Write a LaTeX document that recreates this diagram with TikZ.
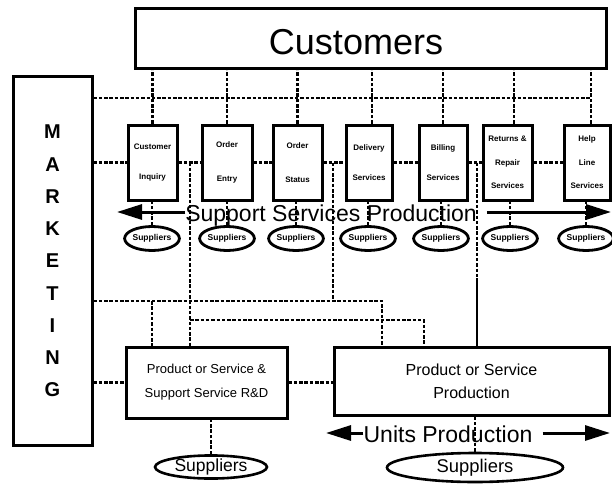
\documentclass[tikz,border=0pt]{standalone}
\usepackage{fontspec}
\setmainfont{Liberation Sans}
\usetikzlibrary{shapes.geometric,arrows.meta,calc}
\begin{document}
\begin{tikzpicture}[x=1pt,y=-1pt,
  box/.style={draw, line width=3pt, rectangle, inner sep=0pt},
  svc/.style={box, minimum height=75pt, align=center, font=\fontsize{8}{9.6}\selectfont\bfseries},
  sup/.style={draw, ellipse, line width=2.8pt, inner sep=0pt, minimum width=54pt, minimum height=24pt, font=\fontsize{8.5}{10}\selectfont\bfseries},
  bigsup/.style={draw, ellipse, line width=2.6pt, inner sep=0pt},
  dl/.style={line width=2.3pt, dash pattern=on 3.5pt off 1.8pt},
  big/.style={line width=3pt, -{Triangle[length=25pt,width=15pt]}},
  lbl/.style={anchor=base, inner sep=0pt, font=\fontsize{23}{26}\selectfont},
]
\useasboundingbox[fill=white] (0,0) rectangle (612,484);

% main blocks
\node[box, minimum width=471pt, minimum height=60pt] (cust) at (370.5,39) {};
\node[anchor=base, inner sep=0pt, font=\fontsize{36}{40}\selectfont] (custtxt) at (356,55) {Customers};
\node[box, minimum width=79pt, minimum height=368pt, align=center,
      font=\fontsize{20}{32.25}\selectfont\bfseries] (mkt) at (52.5,261)
      {M\\A\\R\\K\\E\\T\\I\\N\\G};

% support services
\node[svc, minimum width=49pt] (s1) at (152.5,162.5) {Customer\\[20pt]Inquiry};
\node[svc, minimum width=50pt] (s2) at (227,162.5) {Order\\[25pt]Entry};
\node[svc, minimum width=49pt] (s3) at (297.5,162.5) {Order\\[25pt]Status};
\node[svc, minimum width=46pt] (s4) at (369,162.5) {Delivery\\[21pt]Services};
\node[svc, minimum width=48pt] (s5) at (443,162.5) {Billing\\[21pt]Services};
\node[svc, minimum width=49pt] (s6) at (507.5,162.5) {Returns \&\\[14pt]Repair\\[14pt]Services};
\node[svc, minimum width=46pt] (s7) at (587,162.5) {Help\\[14pt]Line\\[14pt]Services};

\foreach \i/\x in {1/152,2/227,3/296,4/368,5/441,6/510,7/586}
  \node[sup] (e\i) at (\x,238.5) {Suppliers};

% R&D and production
\node[box, minimum width=161pt, minimum height=71pt, align=center,
      font=\fontsize{13}{24}\selectfont] (rd) at (206.5,382.5)
      {Product or Service \&\\Support Service R\&D};
\node[box, minimum width=275pt, minimum height=68pt, align=center,
      font=\fontsize{16}{23}\selectfont] (prod) at (471.5,381)
      {Product or Service\\Production};
\node[bigsup, minimum width=112pt, minimum height=21pt, font=\fontsize{17.5}{20}\selectfont] (suprd) at (211,467) {Suppliers};
\node[bigsup, minimum width=176pt, minimum height=29pt, font=\fontsize{18.4}{20}\selectfont] (supp) at (475,467.5) {Suppliers};

% customers to support services
\foreach \i/\dx in {1/0,2/0,3/0,4/3,5/0,6/6.5,7/4}
  \draw[dl] ([xshift=\dx pt]s\i.north) -- ([xshift=\dx pt]s\i.north |- cust.south);

% marketing links
\coordinate (mt) at (591,98);
\draw[dl] (mkt.east |- mt) -- (mt);
\draw[dl] (mkt.east |- s1.west) -- (s1.west);
\foreach \a/\b in {s1/s2,s2/s3,s3/s4,s4/s5,s5/s6,s6/s7}
  \draw[dl] (\a.east) -- (\a.east -| \b.west);

% support services to suppliers
\foreach \i in {1,...,7}
  \draw[dl] (e\i.north) -- (e\i.north |- s\i.south);

% routes down to R&D and production
\coordinate (ja) at (190,162.5);
\coordinate (jb) at (333,162.5);
\coordinate (jc) at (477,162.5);
\coordinate (ha) at (382,301);
\coordinate (hb) at (424,320);
\coordinate (hc) at (152,301);
\coordinate (sw) at (477,278);
\draw[dl] (ja) -- (ja |- rd.north);
\draw[dl] (jb) -- (jb |- ha);
\draw[dl] (mkt.east |- ha) -- (ha) -- (ha |- prod.north);
\draw[dl] (ja |- hb) -- (hb) -- (hb |- prod.north);
\draw[dl] (hc) -- (hc |- rd.north);
\draw[dl] (jc) -- (sw);
\draw[line width=2.3pt] (sw) -- (sw |- prod.north);
\draw[dl] (mkt.east |- rd.west) -- (rd.west);
\draw[dl] (rd.east) -- (rd.east -| prod.west);
\draw[dl] (suprd.north) -- (suprd.north |- rd.south);
\draw[dl] (supp.north) -- (supp.north |- prod.south);

% production labels with arrows
\node[lbl] (ssp) at (331,221) {Support Services Production};
\coordinate (sspl) at (117,212);
\coordinate (sspr) at (611,212);
\coordinate (sspe) at ([xshift=10pt]ssp.east);
\draw[big] (ssp.west |- sspl) -- (sspl);
\draw[big] (sspe |- sspr) -- (sspr);

\node[lbl] (up) at (448,442) {Units Production};
\coordinate (upl) at (326,433);
\coordinate (upr) at (610,433);
\coordinate (upe) at ([xshift=10pt]up.east);
\draw[big] (up.west |- upl) -- (upl);
\draw[big] (upe |- upr) -- (upr);
\end{tikzpicture}
\end{document}
